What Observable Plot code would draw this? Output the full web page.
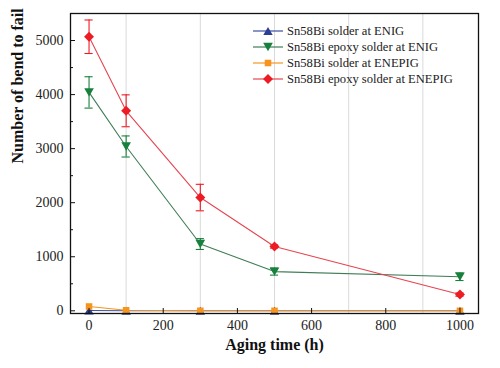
<!DOCTYPE html>
<html><head><meta charset="utf-8">
<script src="https://cdn.jsdelivr.net/npm/d3@7"></script>
<script src="https://cdn.jsdelivr.net/npm/@observablehq/plot@0.6"></script>
<style>
body{margin:0;background:#fff;}
#wrap{position:relative;width:500px;height:368px;font-family:"Liberation Serif","DejaVu Serif",serif;}
#legend{position:absolute;left:252px;top:23px;font-size:12.6px;color:#222;}
#legend .row{display:flex;align-items:center;height:16px;}
#legend svg{margin-right:3px;}
svg.plot text{font-family:"Liberation Serif","DejaVu Serif",serif !important;}
</style></head>
<body><div id="wrap"><div id="legend"></div></div>
<script>
const agingTime = [0, 100, 300, 500, 1000];
const seriesNames = ["Sn58Bi solder at ENIG", "Sn58Bi epoxy solder at ENIG", "Sn58Bi solder at ENEPIG", "Sn58Bi epoxy solder at ENEPIG"];
const solderENIG = [5, 0, 0, 0, 0];
const solderENIGErr = [0, 0, 0, 0, 0];
const epoxyENIG = [4040, 3040, 1235, 725, 630];
const epoxyENIGErr = [290, 195, 100, 65, 70];
const solderENEPIG = [80, 10, 0, 0, 0];
const solderENEPIGErr = [0, 0, 0, 0, 0];
const epoxyENEPIG = [5070, 3700, 2095, 1190, 300];
const epoxyENEPIGErr = [310, 295, 245, 30, 30];
const xTicks = [0, 200, 400, 600, 800, 1000];
const yTicks = [0, 1000, 2000, 3000, 4000, 5000];
const yMinorTicks = [500, 1500, 2500, 3500, 4500];
const gridX = [100, 300, 500, 700, 900];

const colors = ["#2b3d94", "#17803c", "#f7941d", "#ed1c24"];
const lineColors = ["#3a4fa0", "#3f7d57", "#f7941d", "#e64550"];
const FONT = '"Liberation Serif", "DejaVu Serif", serif';

const triDown = {draw(ctx, size){const s=Math.sqrt(size*1.6);const h=s*0.866;ctx.moveTo(-s/2,-h/2);ctx.lineTo(s/2,-h/2);ctx.lineTo(0,h/2);ctx.closePath();}};
const triUp = {draw(ctx, size){const s=Math.sqrt(size*1.6);const h=s*0.866;ctx.moveTo(-s/2,h/2);ctx.lineTo(s/2,h/2);ctx.lineTo(0,-h/2);ctx.closePath();}};
const diamond = {draw(ctx, size){const r=Math.sqrt(size)*0.72;ctx.moveTo(0,-r);ctx.lineTo(r,0);ctx.lineTo(0,r);ctx.lineTo(-r,0);ctx.closePath();}};
const square = {draw(ctx, size){const r=Math.sqrt(size)*0.42;ctx.rect(-r,-r,2*r,2*r);}};
const symbols = [triUp, triDown, square, diamond];
const sizes = [4.2, 4.3, 4.4, 3.9];

const allVals = [solderENIG, epoxyENIG, solderENEPIG, epoxyENEPIG];
const allErr = [solderENIGErr, epoxyENIGErr, solderENEPIGErr, epoxyENEPIGErr];
const rows = [];
allVals.forEach((vals, s) => vals.forEach((v, i) => rows.push({s, x: agingTime[i], y: v, e: allErr[s][i]})));
const errRows = rows.filter(d => d.e > 0);
const order = [0, 2, 1, 3];

const marks = [
  Plot.ruleX(gridX, {stroke: "#d0d0d0", strokeWidth: 0.8}),
  Plot.ruleX(errRows, {x: "x", y1: d => d.y - d.e, y2: d => d.y + d.e, stroke: d => colors[d.s], strokeWidth: 1.1}),
  Plot.ruleY(errRows, {y: d => d.y + d.e, x1: d => d.x - 11, x2: d => d.x + 11, stroke: d => colors[d.s], strokeWidth: 1.1}),
  Plot.ruleY(errRows, {y: d => d.y - d.e, x1: d => d.x - 11, x2: d => d.x + 11, stroke: d => colors[d.s], strokeWidth: 1.1}),
];
for (const s of order) {
  const data = rows.filter(d => d.s === s);
  marks.push(Plot.line(data, {x: "x", y: "y", stroke: lineColors[s], strokeWidth: 1.1}));
  marks.push(Plot.dot(data, {x: "x", y: "y", symbol: () => symbols[s], r: sizes[s], fill: colors[s], stroke: "none"}));
}
marks.push(
  Plot.frame({stroke: "#111", strokeWidth: 1.3}),
  Plot.axisX({ticks: xTicks, tickSize: -5, tickPadding: 12, tickFormat: d3.format("d"), stroke: "#111", fill: "#222", fontSize: 14, fontFamily: FONT, label: null}),
  Plot.axisY({ticks: yTicks, tickSize: -5, tickPadding: 12, tickFormat: d3.format("d"), stroke: "#111", fill: "#222", fontSize: 14, fontFamily: FONT, label: null}),
  Plot.axisY({ticks: yMinorTicks, tickSize: -3, tickFormat: () => "", stroke: "#111", label: null}),
  Plot.text(["Aging time (h)"], {frameAnchor: "bottom", dy: 36, fontSize: 16, fontWeight: "bold", fill: "#111", fontFamily: FONT}),
  Plot.text(["Number of bend to fail"], {frameAnchor: "left", dx: -53, rotate: -90, fontSize: 16, fontWeight: "bold", fill: "#111", fontFamily: FONT})
);

const chart = Plot.plot({
  width: 500, height: 368,
  marginLeft: 70, marginRight: 22, marginTop: 13, marginBottom: 55,
  className: "plot",
  style: {fontFamily: FONT, color: "#111", background: "#fff", overflow: "visible"},
  x: {domain: [-50, 1050]},
  y: {domain: [-50, 5500]},
  marks
});
chart.classList.add("plot");
document.getElementById("wrap").prepend(chart);

const legend = document.getElementById("legend");
seriesNames.forEach((name, s) => {
  const row = document.createElement("div"); row.className = "row";
  const ns = "http://www.w3.org/2000/svg";
  const svg = document.createElementNS(ns, "svg"); svg.setAttribute("width", 32); svg.setAttribute("height", 14);
  const ln = document.createElementNS(ns, "line");
  ln.setAttribute("x1", 1); ln.setAttribute("x2", 31); ln.setAttribute("y1", 7); ln.setAttribute("y2", 7);
  ln.setAttribute("stroke", lineColors[s]); ln.setAttribute("stroke-width", 1.2);
  svg.appendChild(ln);
  const p = document.createElementNS(ns, "path");
  p.setAttribute("d", d3.symbol(symbols[s], Math.PI * sizes[s] * sizes[s])());
  p.setAttribute("transform", "translate(16,7)"); p.setAttribute("fill", colors[s]);
  svg.appendChild(p);
  row.appendChild(svg);
  const t = document.createElement("span"); t.textContent = name; row.appendChild(t);
  legend.appendChild(row);
});
</script></body></html>
